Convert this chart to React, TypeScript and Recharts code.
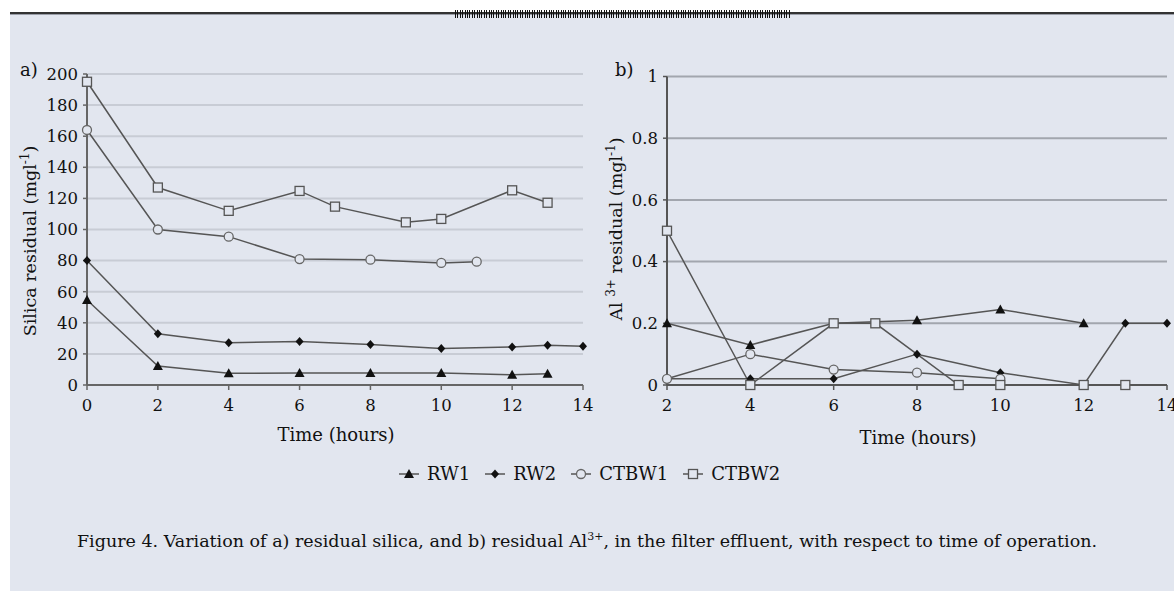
import { LineChart, Line, XAxis, YAxis, CartesianGrid, Label } from 'recharts';

const FONT = '"DejaVu Serif", serif';
const BG = '#e2e6ef';

// a) silica residual, mg/l, read per hour
const silicaHours = [0, 2, 4, 6, 7, 8, 9, 10, 11, 12, 13, 14];
const silicaRW1 = [54.7, 12.2, 7.5, 7.7, null, 7.7, null, 7.7, null, 6.6, 7.3, null];
const silicaRW2 = [80, 33, 27.2, 27.9, null, 26.1, null, 23.4, null, 24.4, 25.5, 24.9];
const silicaCTBW1 = [164, 100, 95.4, 81, null, 80.6, null, 78.5, 79.3, null, null, null];
const silicaCTBW2 = [195, 127, 112, 124.8, 114.7, null, 104.6, 106.8, null, 125.2, 117.2, null];

// b) Al3+ residual, mg/l
const alHours = [2, 4, 6, 7, 8, 9, 10, 12, 13, 14];
const alRW1 = [0.2, 0.13, 0.2, null, 0.21, null, 0.245, 0.2, null, null];
const alRW2 = [0.02, 0.02, 0.02, null, 0.1, null, 0.04, 0, 0.2, 0.2];
const alCTBW1 = [0.02, 0.1, 0.05, null, 0.04, null, 0.02, null, null, null];
const alCTBW2 = [0.5, 0, 0.2, 0.2, null, 0, 0, 0, 0, null];

const seriesNames = ['RW1', 'RW2', 'CTBW1', 'CTBW2'];
const seriesShapes = ['triangle', 'diamond', 'circle', 'square'];

const silicaTicks = [0, 20, 40, 60, 80, 100, 120, 140, 160, 180, 200];
const alTicks = [0, 0.2, 0.4, 0.6, 0.8, 1];
const hourTicksA = [0, 2, 4, 6, 8, 10, 12, 14];
const hourTicksB = [2, 4, 6, 8, 10, 12, 14];

const silicaData = silicaHours.map((h, i) => ({
  hour: h,
  RW1: silicaRW1[i],
  RW2: silicaRW2[i],
  CTBW1: silicaCTBW1[i],
  CTBW2: silicaCTBW2[i],
}));

const alData = alHours.map((h, i) => ({
  hour: h,
  RW1: alRW1[i],
  RW2: alRW2[i],
  CTBW1: alCTBW1[i],
  CTBW2: alCTBW2[i],
}));

const Marker = ({ shape, cx, cy }: { shape: string; cx: number; cy: number }) => {
  if (shape === 'triangle')
    return <polygon points={`${cx},${cy - 5} ${cx + 5},${cy + 4} ${cx - 5},${cy + 4}`} fill="#111" />;
  if (shape === 'diamond')
    return <polygon points={`${cx},${cy - 4.5} ${cx + 4},${cy} ${cx},${cy + 4.5} ${cx - 4},${cy}`} fill="#111" />;
  if (shape === 'circle')
    return <circle cx={cx} cy={cy} r={4.5} fill={BG} stroke="#666" strokeWidth={1.3} />;
  return <rect x={cx - 4.5} y={cy - 4.5} width={9} height={9} fill={BG} stroke="#555" strokeWidth={1.3} />;
};

const dotFor = (shape: string) => (p: any) => {
  if (p.cx == null || p.cy == null || p.value == null || isNaN(p.cy)) return <g key={p.index} />;
  return (
    <g key={p.index}>
      <Marker shape={shape} cx={p.cx} cy={p.cy} />
    </g>
  );
};

const tickStyle = { fill: '#111', fontSize: 16.5, fontFamily: FONT };

const TitleA = () => (
  <g fontFamily={FONT} fill="#111">
    <text x={20} y={76} fontSize={18}>a)</text>
    <text transform="translate(36,241) rotate(-90)" textAnchor="middle" fontSize={17.5}>
      Silica residual (mgl<tspan dy={-7} fontSize={12}>-1</tspan>
      <tspan dy={7}>)</tspan>
    </text>
  </g>
);

const TitleB = () => (
  <g fontFamily={FONT} fill="#111">
    <text x={25} y={76} fontSize={18}>b)</text>
    <text transform="translate(32,229) rotate(-90)" textAnchor="middle" fontSize={17.5}>
      Al <tspan dy={-7} fontSize={12}>3+</tspan>
      <tspan dy={7}> residual (mgl</tspan>
      <tspan dy={-7} fontSize={12}>-1</tspan>
      <tspan dy={7}>)</tspan>
    </text>
  </g>
);

const renderLines = () =>
  seriesNames.map((name, i) => (
    <Line
      key={name}
      dataKey={name}
      stroke="#555"
      strokeWidth={1.5}
      dot={dotFor(seriesShapes[i])}
      activeDot={false}
      connectNulls
      isAnimationActive={false}
    />
  ));

const LegendIcon = ({ shape }: { shape: string }) => (
  <svg width={20} height={20} style={{ display: 'block' }}>
    <line x1={0} y1={10} x2={20} y2={10} stroke="#555" strokeWidth={1.5} />
    <Marker shape={shape} cx={10} cy={10} />
  </svg>
);

export default function App() {
  return (
    <div style={{ position: 'absolute', left: 0, top: 0, width: 1174, height: 591, background: '#fff', overflow: 'hidden' }}>
      <div style={{ position: 'absolute', left: 10, top: 15, width: 1164, height: 576, background: BG }} />
      <div style={{ position: 'absolute', left: 10, top: 12, width: 1164, height: 2, background: '#333' }} />
      <div style={{ position: 'absolute', left: 10, top: 14, width: 1164, height: 1, background: '#9a9ea8' }} />
      <div
        style={{
          position: 'absolute', left: 455, top: 10, width: 335, height: 8,
          background: 'repeating-linear-gradient(90deg, #111 0px, #111 1px, transparent 1px, transparent 2.4px)',
        }}
      />

      <div style={{ position: 'absolute', left: 0, top: 0 }}>
        <LineChart width={600} height={460} data={silicaData} margin={{ top: 74, right: 17, left: 37, bottom: 45 }}>
          <CartesianGrid vertical={false} stroke="#c8ccd5" strokeWidth={2} />
          <XAxis
            type="number" dataKey="hour" domain={[0, 14]} ticks={hourTicksA} interval={0}
            height={30} tickSize={5} tickMargin={9} tick={tickStyle}
            axisLine={{ stroke: '#666', strokeWidth: 2 }} tickLine={{ stroke: '#666', strokeWidth: 1.5 }}
          >
            <Label content={() => <text x={336} y={441} textAnchor="middle" fontFamily={FONT} fontSize={18} fill="#111">Time (hours)</text>} />
          </XAxis>
          <YAxis
            type="number" domain={[0, 200]} ticks={silicaTicks} interval={0}
            width={50} tickSize={4} tickMargin={5} tick={tickStyle}
            axisLine={{ stroke: '#666', strokeWidth: 2 }} tickLine={{ stroke: '#666', strokeWidth: 1.5 }}
          >
            <Label content={() => <TitleA />} />
          </YAxis>
          {renderLines()}
        </LineChart>
      </div>

      <div style={{ position: 'absolute', left: 590, top: 0 }}>
        <LineChart width={584} height={460} data={alData} margin={{ top: 76.5, right: 7, left: 27, bottom: 45 }}>
          <CartesianGrid vertical={false} stroke="#a2a6ae" strokeWidth={2} />
          <XAxis
            type="number" dataKey="hour" domain={[2, 14]} ticks={hourTicksB} interval={0}
            height={30} tickSize={5} tickMargin={9} tick={tickStyle}
            axisLine={{ stroke: '#555', strokeWidth: 2 }} tickLine={{ stroke: '#555', strokeWidth: 1.5 }}
          >
            <Label content={() => <text x={328} y={444} textAnchor="middle" fontFamily={FONT} fontSize={18} fill="#111">Time (hours)</text>} />
          </XAxis>
          <YAxis
            type="number" domain={[0, 1]} ticks={alTicks} interval={0}
            width={50} tickSize={4} tickMargin={5} tick={tickStyle}
            axisLine={{ stroke: '#555', strokeWidth: 2 }} tickLine={{ stroke: '#555', strokeWidth: 1.5 }}
          >
            <Label content={() => <TitleB />} />
          </YAxis>
          {renderLines()}
        </LineChart>
      </div>

      <div style={{ position: 'absolute', left: 399, top: 463, display: 'flex', alignItems: 'center', fontFamily: FONT, fontSize: 18, color: '#111' }}>
        {seriesNames.map((name, i) => (
          <div key={name} style={{ display: 'flex', alignItems: 'center', marginRight: 15 }}>
            <LegendIcon shape={seriesShapes[i]} />
            <span style={{ marginLeft: 8 }}>{name}</span>
          </div>
        ))}
      </div>

      <div style={{ position: 'absolute', left: 0, top: 530, width: 1174, textAlign: 'center', fontFamily: FONT, fontSize: 17.5, lineHeight: '22px', color: '#111' }}>
        Figure 4. Variation of a) residual silica, and b) residual Al<span style={{ fontSize: 11, verticalAlign: 'super', lineHeight: 0 }}>3+</span>, in the filter effluent, with respect to time of operation.
      </div>
    </div>
  );
}
